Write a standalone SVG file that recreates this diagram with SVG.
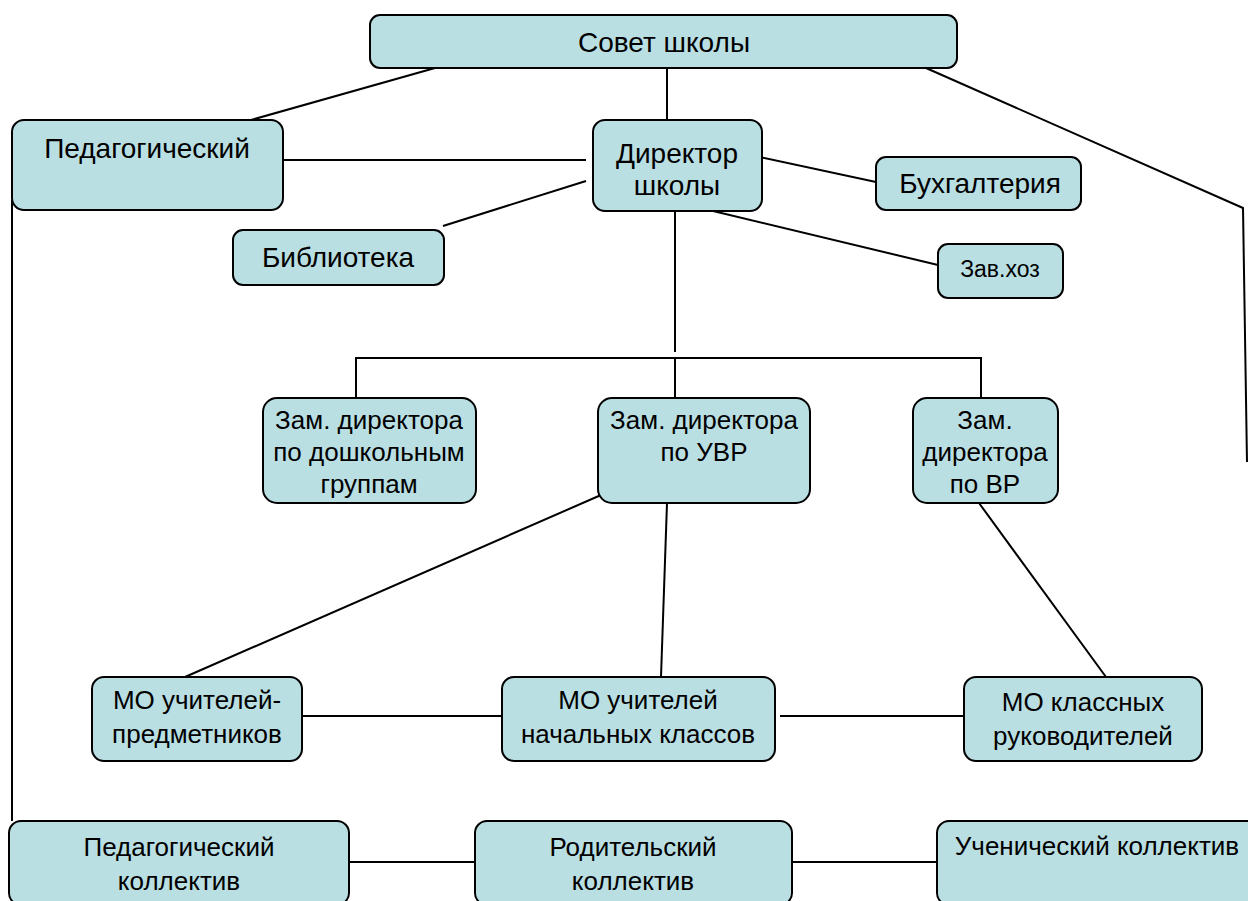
<svg xmlns="http://www.w3.org/2000/svg" width="1248" height="901" viewBox="0 0 1248 901">
<style>
.box{fill:#badfe3;stroke:#000;stroke-width:2}
.t{font-family:"Liberation Sans",Arial,sans-serif;fill:#000;text-anchor:middle}
.l{font-size:28px}
.m{font-size:26px}
.s{font-size:23px}
.c{stroke:#000;stroke-width:2;fill:none}
</style>
<rect width="1248" height="901" fill="#fff"/>
<g id="connectors">
<line class="c" x1="435" y1="68" x2="251" y2="120"/>
<line class="c" x1="667" y1="68" x2="667" y2="120"/>
<polyline class="c" points="926,68 1243,208 1247,462" stroke-width="1.5"/>
<line class="c" x1="283" y1="160" x2="586" y2="160"/>
<line class="c" x1="443" y1="226" x2="586" y2="181"/>
<line class="c" x1="760" y1="157" x2="876" y2="182"/>
<line class="c" x1="713" y1="211" x2="938" y2="265"/>
<line class="c" x1="675" y1="211" x2="675" y2="352"/>
<polyline class="c" points="356,398 356,358 981,358 981,398" stroke-width="1.5"/>
<line class="c" x1="675" y1="358" x2="675" y2="398" stroke-width="1.5"/>
<line class="c" x1="12" y1="200" x2="12" y2="821" stroke-width="1.5"/>
<line class="c" x1="601" y1="495" x2="185" y2="677"/>
<line class="c" x1="667" y1="503" x2="661" y2="677"/>
<line class="c" x1="979" y1="503" x2="1106" y2="677"/>
<line class="c" x1="302" y1="716" x2="502" y2="716"/>
<line class="c" x1="780" y1="716" x2="964" y2="716"/>
<line class="c" x1="343" y1="862" x2="475" y2="862"/>
<line class="c" x1="792" y1="862" x2="937" y2="862"/>
</g>
<g id="sovet"><rect class="box" x="370" y="15" width="587" height="53" rx="10"/><text class="t l" x="664" y="52">Совет школы</text></g>
<g id="pedsovet"><rect class="box" x="12" y="120" width="271" height="90" rx="12"/><text class="t l" x="147" y="158">Педагогический</text></g>
<g id="director"><rect class="box" x="593" y="120" width="169" height="91" rx="12"/><text class="t l" x="677" y="163">Директор</text><text class="t l" x="677" y="195">школы</text></g>
<g id="buh"><rect class="box" x="876" y="157" width="205" height="53" rx="10"/><text class="t l" x="980" y="193">Бухгалтерия</text></g>
<g id="library"><rect class="box" x="233" y="230" width="211" height="55" rx="10"/><text class="t l" x="338" y="267">Библиотека</text></g>
<g id="zavhoz"><rect class="box" x="938" y="244" width="125" height="54" rx="10"/><text class="t s" x="1000" y="277">Зав.хоз</text></g>
<g id="zam-dosh"><rect class="box" x="263" y="398" width="213" height="105" rx="14"/><text class="t m" x="369" y="429">Зам. директора</text><text class="t m" x="369" y="461">по дошкольным</text><text class="t m" x="369" y="493">группам</text></g>
<g id="zam-uvr"><rect class="box" x="598" y="398" width="212" height="105" rx="14"/><text class="t m" x="704" y="429">Зам. директора</text><text class="t m" x="704" y="461">по УВР</text></g>
<g id="zam-vr"><rect class="box" x="913" y="398" width="145" height="105" rx="14"/><text class="t m" x="985" y="429">Зам.</text><text class="t m" x="985" y="461">директора</text><text class="t m" x="985" y="493">по ВР</text></g>
<g id="mo-pred"><rect class="box" x="92" y="677" width="210" height="84" rx="12"/><text class="t m" x="197" y="709">МО учителей-</text><text class="t m" x="197" y="743">предметников</text></g>
<g id="mo-nach"><rect class="box" x="502" y="677" width="273" height="84" rx="12"/><text class="t m" x="638" y="709">МО учителей</text><text class="t m" x="638" y="743">начальных классов</text></g>
<g id="mo-kl"><rect class="box" x="964" y="677" width="238" height="84" rx="12"/><text class="t m" x="1083" y="711">МО классных</text><text class="t m" x="1083" y="745">руководителей</text></g>
<g id="ped-koll"><rect class="box" x="9" y="821" width="340" height="84" rx="12"/><text class="t m" x="179" y="856">Педагогический</text><text class="t m" x="179" y="890">коллектив</text></g>
<g id="rod-koll"><rect class="box" x="475" y="821" width="317" height="84" rx="12"/><text class="t m" x="633" y="856">Родительский</text><text class="t m" x="633" y="890">коллектив</text></g>
<g id="uch-koll"><rect class="box" x="937" y="821" width="330" height="84" rx="12"/><text class="t m" x="1097" y="855">Ученический коллектив</text></g>
</svg>
